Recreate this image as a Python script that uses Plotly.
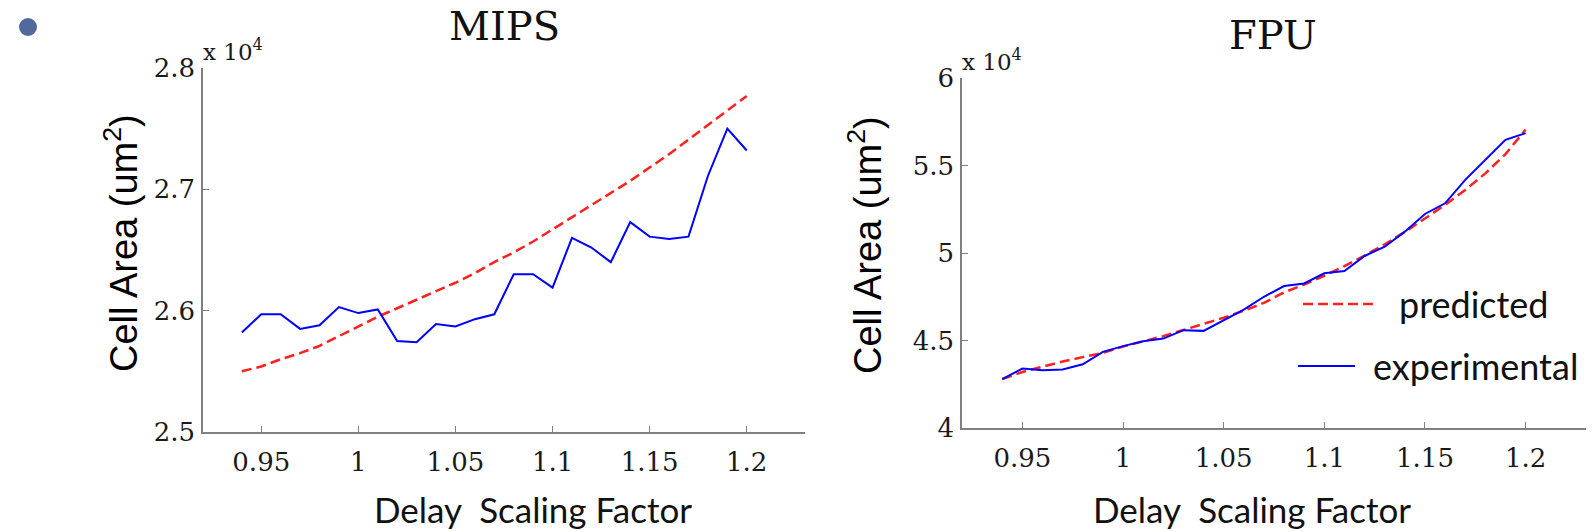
import plotly.graph_objects as go

W, H = 1592, 532

# ---------------- data ----------------
delay = [0.94, 0.95, 0.96, 0.97, 0.98, 0.99, 1.00, 1.01, 1.02, 1.03, 1.04, 1.05, 1.06, 1.07,
         1.08, 1.09, 1.10, 1.11, 1.12, 1.13, 1.14, 1.15, 1.16, 1.17, 1.18, 1.19, 1.20]

mips_experimental = [25820, 25970, 25970, 25850, 25880, 26030, 25980, 26010, 25750, 25740,
                     25890, 25870, 25930, 25970, 26300, 26300, 26190, 26600, 26520, 26400,
                     26730, 26610, 26590, 26610, 27110, 27500, 27320]
mips_predicted = [25500, 25540, 25600, 25650, 25710, 25790, 25870, 25950, 26020, 26090,
                  26160, 26230, 26310, 26400, 26480, 26570, 26670, 26770, 26870, 26970,
                  27070, 27180, 27290, 27410, 27530, 27650, 27770]

fpu_experimental = [42790, 43400, 43300, 43340, 43640, 44350, 44680, 44960, 45110, 45590,
                    45550, 46160, 46770, 47500, 48110, 48260, 48840, 48970, 49830, 50360,
                    51220, 52230, 52840, 54180, 55320, 56470, 56850]
fpu_predicted = [42800, 43200, 43500, 43800, 44050, 44300, 44650, 44950, 45250, 45600,
                 45950, 46300, 46700, 47150, 47750, 48200, 48700, 49250, 49850, 50500,
                 51200, 51950, 52750, 53600, 54550, 55650, 57050]

x_ticks = [0.95, 1.00, 1.05, 1.10, 1.15, 1.20]
x_ticktext = ["0.95", "1", "1.05", "1.1", "1.15", "1.2"]
mips_yticks = [25000, 26000, 27000, 28000]
mips_yticktext = ["2.5", "2.6", "2.7", "2.8"]
fpu_yticks = [40000, 45000, 50000, 55000, 60000]
fpu_yticktext = ["4", "4.5", "5", "5.5", "6"]

titles = ["MIPS", "FPU"]
series_names = ["predicted", "experimental"]

# ---------------- styles ----------------
RED = "#ff2020"
BLUE = "#0000ff"
AXC = "#808080"
SERIF = "DejaVu Serif"
SANS = "Liberation Sans"
CAL = "Lato"

def px(x):
    return x / W

def py(y):
    return 1 - y / H

fig = go.Figure()

fig.add_trace(go.Scatter(x=delay, y=mips_predicted, mode="lines", name=series_names[0],
                         line=dict(color=RED, width=2.5, dash="10px,5px"),
                         xaxis="x", yaxis="y", showlegend=False))
fig.add_trace(go.Scatter(x=delay, y=mips_experimental, mode="lines", name=series_names[1],
                         line=dict(color=BLUE, width=2),
                         xaxis="x", yaxis="y", showlegend=False))
fig.add_trace(go.Scatter(x=delay, y=fpu_predicted, mode="lines", name=series_names[0],
                         line=dict(color=RED, width=2.5, dash="10px,5px"),
                         xaxis="x2", yaxis="y2", showlegend=False))
fig.add_trace(go.Scatter(x=delay, y=fpu_experimental, mode="lines", name=series_names[1],
                         line=dict(color=BLUE, width=2),
                         xaxis="x2", yaxis="y2", showlegend=False))

tickfont = dict(family=SERIF, size=26, color="#1a1a1a")

def xaxis_cfg(domain, anchor):
    return dict(domain=domain, anchor=anchor, range=[0.92, 1.23],
                tickvals=x_ticks, ticktext=x_ticktext, tickfont=tickfont,
                ticks="inside", ticklen=6, tickwidth=1, tickcolor=AXC,
                showline=True, linecolor=AXC, linewidth=1.5,
                showgrid=False, zeroline=False, ticklabelstandoff=6,
                automargin=False, fixedrange=True)

def yaxis_cfg(domain, anchor, rng, tv, tt):
    return dict(domain=domain, anchor=anchor, range=rng,
                tickvals=tv, ticktext=tt, tickfont=tickfont,
                ticks="inside", ticklen=6, tickwidth=1, tickcolor=AXC,
                showline=True, linecolor=AXC, linewidth=1.5,
                showgrid=False, zeroline=False, ticklabelstandoff=1,
                automargin=False, fixedrange=True)

fig.update_layout(
    width=W, height=H,
    margin=dict(l=0, r=0, t=0, b=0),
    paper_bgcolor="white", plot_bgcolor="white",
    showlegend=False,
    xaxis=xaxis_cfg([px(203), px(805)], "y"),
    yaxis=yaxis_cfg([py(432), py(68)], "x", [25000, 28000], mips_yticks, mips_yticktext),
    xaxis2=xaxis_cfg([px(962), px(1586)], "y2"),
    yaxis2=yaxis_cfg([py(428), py(78)], "x2", [40000, 60000], fpu_yticks, fpu_yticktext),
)

ann = []
# plot titles
ann.append(dict(text=titles[0], x=px(504), y=py(26), xref="paper", yref="paper",
                xanchor="center", yanchor="middle", showarrow=False,
                font=dict(family=SERIF, size=40, color="#111")))
ann.append(dict(text=titles[1], x=px(1273), y=py(35), xref="paper", yref="paper",
                xanchor="center", yanchor="middle", showarrow=False,
                font=dict(family=SERIF, size=40, color="#111")))
# exponent labels
for xl, yt in [(203, 68), (962, 78)]:
    ann.append(dict(text="x 10<sup>4</sup>", x=px(xl - 2), y=py(yt - 1), xref="paper", yref="paper",
                    xanchor="left", yanchor="bottom", showarrow=False,
                    font=dict(family=SERIF, size=23, color="#1a1a1a")))
# x titles
for xc in [533, 1252]:
    ann.append(dict(text="Delay\u00a0 Scaling Factor", x=px(xc), y=py(509), xref="paper", yref="paper",
                    xanchor="center", yanchor="middle", showarrow=False,
                    font=dict(family=CAL, size=35, color="#111")))
# y titles
for xc, yc in [(121, 243), (865, 245)]:
    ann.append(dict(text="Cell Area (um<sup>2</sup>)", x=px(xc), y=py(yc), xref="paper", yref="paper",
                    xanchor="center", yanchor="middle", showarrow=False, textangle=-90,
                    font=dict(family=SANS, size=38, color="#000")))
# legend text
ann.append(dict(text=series_names[0], x=px(1397), y=py(304), xref="paper", yref="paper",
                xanchor="left", yanchor="middle", showarrow=False,
                font=dict(family=CAL, size=36, color="#111")))
ann.append(dict(text=series_names[1], x=px(1371), y=py(366), xref="paper", yref="paper",
                xanchor="left", yanchor="middle", showarrow=False,
                font=dict(family=CAL, size=36, color="#111")))
fig.update_layout(annotations=ann)

shapes = [
    # legend samples
    dict(type="line", xref="paper", yref="paper", x0=px(1303), x1=px(1373), y0=py(304), y1=py(304),
         line=dict(color=RED, width=2.5, dash="10px,5px")),
    dict(type="line", xref="paper", yref="paper", x0=px(1298), x1=px(1355), y0=py(366), y1=py(366),
         line=dict(color=BLUE, width=2)),
    # slide bullet
    dict(type="circle", xref="paper", yref="paper", x0=px(19), x1=px(37), y0=py(36), y1=py(18),
         fillcolor="#52699b", line=dict(width=0)),
]
fig.update_layout(shapes=shapes)

fig.write_html("out.html", config={"displayModeBar": False})
